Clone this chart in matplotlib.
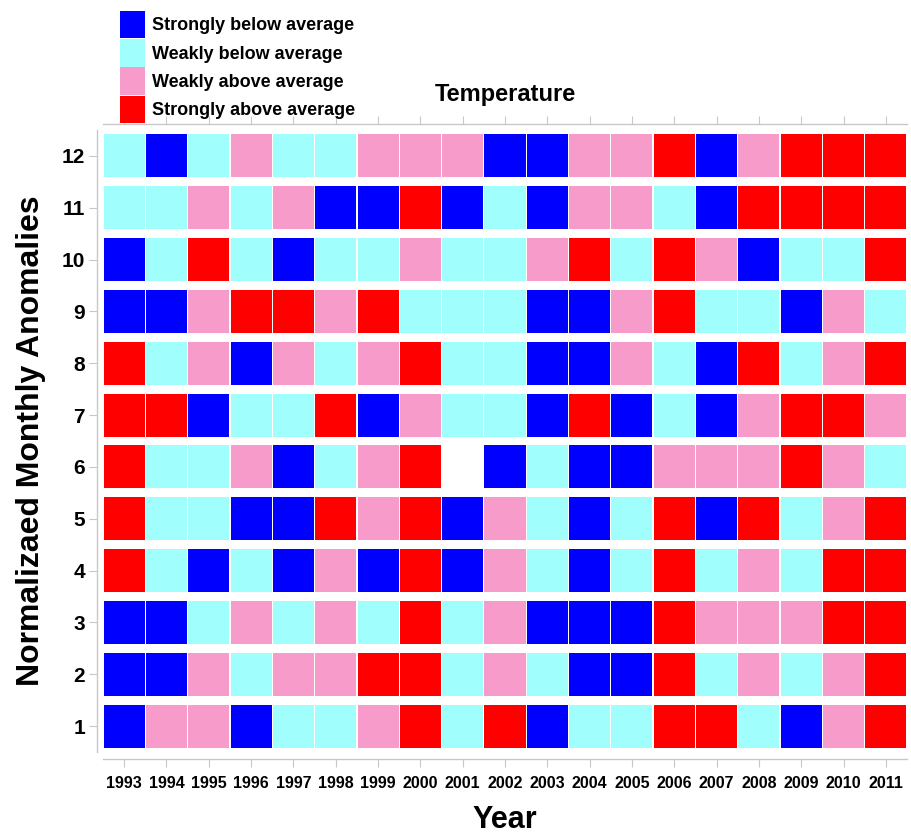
import numpy as np
import matplotlib
matplotlib.use("Agg")
import matplotlib.pyplot as plt
from matplotlib.patches import Patch

plt.rcParams['font.family'] = ['Liberation Sans', 'DejaVu Sans']
plt.rcParams['font.weight'] = 'bold'

# categories: B strongly below, C weakly below, P weakly above, R strongly above, N missing
years = list(range(1993, 2012))
months = list(range(1, 13))
cat_names = ['Strongly below average', 'Weakly below average',
             'Weakly above average', 'Strongly above average']
cat_codes = ['B', 'C', 'P', 'R']
cat_colors = ['#0000FF', '#A0FFFC', '#F79BCB', '#FF0000']

# one string per month, one letter per year 1993..2011
m1 = "BPPBCCPRCRBCCRRCBPR"
m2 = "BBPCPPRRCPCBBRCPCPR"
m3 = "BBCPCPCRCPBBBRPPPRR"
m4 = "RCBCBPBRBPCBCRCPCRR"
m5 = "RCCBBRPRBPCBCRBRCPR"
m6 = "RCCPBCPRNBCBBPPPRPC"
m7 = "RRBCCRBPCCBRBCBPRRP"
m8 = "RCPBPCPRCCBBPCBRCPR"
m9 = "BBPRRPRCCCBBPRCCBPC"
m10 = "BCRCBCCPCCPRCRPBCCR"
m11 = "CCPCPBBRBCBPPCBRRRR"
m12 = "CBCPCCPPPBBPPRBPRRR"
rows = [m1, m2, m3, m4, m5, m6, m7, m8, m9, m10, m11, m12]

fig = plt.figure(figsize=(9.11, 8.38), dpi=100)
ax = fig.add_axes([103/911, 1 - 752/838, 804/911, 622/838])

color_of = dict(zip(cat_codes, cat_colors))
color_of['N'] = 'white'
h = 0.83
for m, row in zip(months, rows):
    cols = [color_of[c] for c in row]
    ax.bar(years, h, bottom=m - h/2, width=0.97, color=cols, linewidth=0)

ax.set_xlim(1992.5, 2011.5)
ax.set_ylim(0.5, 12.5)

gray = '#C8C8C8'
for s in ['left', 'bottom', 'top']:
    ax.spines[s].set_color(gray)
    ax.spines[s].set_linewidth(1)
ax.spines['right'].set_visible(False)
ax.spines['left'].set_position(('outward', 4))
ax.spines['bottom'].set_position(('outward', 5))
ax.spines['top'].set_position(('outward', 4))

ax.set_xticks(years)
ax.set_xticklabels([str(y) for y in years], fontsize=11.5, fontweight='bold')
ax.set_yticks(months)
ax.set_yticklabels([str(m) for m in months], fontsize=15, fontweight='bold')
ax.tick_params(axis='x', which='both', top=True, labeltop=False, length=6,
               color=gray, pad=6)
ax.tick_params(axis='y', length=6, color=gray, pad=3)

ax.set_xlabel('Year', fontsize=22, fontweight='bold', labelpad=10)
ax.set_ylabel('Normalizaed Monthly Anomalies', fontsize=23, fontweight='bold', labelpad=11)
ax.set_title('Temperature', fontsize=17, fontweight='bold', pad=21)

handles = [Patch(facecolor=c, edgecolor='none') for c in cat_colors]
fig.legend(handles, cat_names, loc='upper left',
           bbox_to_anchor=(120/911, 1 - 11/838), frameon=False,
           prop={'size': 13, 'weight': 'bold'}, handlelength=1.4,
           handleheight=1.95, handletextpad=0.4, labelspacing=0.05,
           borderpad=0, borderaxespad=0)

fig.savefig('out.png', dpi=100)
